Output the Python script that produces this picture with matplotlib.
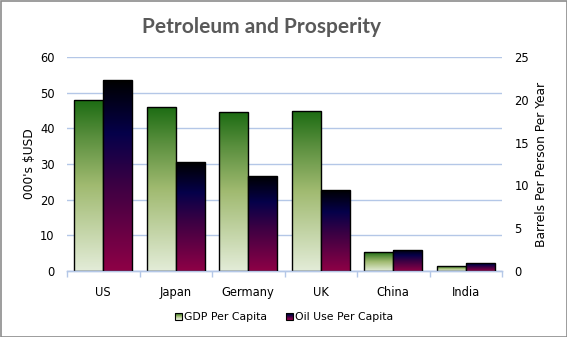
import numpy as np
import matplotlib
matplotlib.use("Agg")
import matplotlib.pyplot as plt
from matplotlib.colors import LinearSegmentedColormap
from matplotlib.legend_handler import HandlerBase
from matplotlib.patches import Rectangle, Patch

categories = ["US", "Japan", "Germany", "UK", "China", "India"]
gdp_per_capita = [48, 46, 44.6, 45, 5.2, 1.4]          # 000's $USD
oil_per_capita = [22.3, 12.7, 11.1, 9.5, 2.5, 0.95]    # barrels per person per year
left_ticks = [0, 10, 20, 30, 40, 50, 60]
right_ticks = [0, 5, 10, 15, 20, 25]

gdp_cmap = LinearSegmentedColormap.from_list(
    "gdp", [(0, "#e3ecd8"), (0.5, "#a0ba70"), (0.78, "#5a8f3e"), (1.0, "#1b6b12")])
oil_cmap = LinearSegmentedColormap.from_list(
    "oil", [(0, "#8e0046"), (0.45, "#3c0043"), (0.72, "#05004a"), (1.0, "#000000")])

fig = plt.figure(figsize=(5.67, 3.37), dpi=100)
ax = fig.add_axes([67/567, 1-271/337, 435/567, 214/337])
ax2 = ax.twinx()

x = np.arange(len(categories))
w = 0.4


def grad_bars(a, xs, vals, cmap):
    bars = a.bar(xs, vals, w, facecolor="none", edgecolor="black", linewidth=1.0, zorder=3)
    grad = np.linspace(0, 1, 256).reshape(-1, 1)
    for p in bars:
        im = a.imshow(grad, cmap=cmap, origin="lower", aspect="auto",
                      extent=[p.get_x(), p.get_x()+p.get_width(), p.get_y(), p.get_y()+p.get_height()],
                      zorder=2.5, interpolation="bilinear")
        im.set_clip_path(p)
    return bars

grad_bars(ax, x - w/2, gdp_per_capita, gdp_cmap)
grad_bars(ax2, x + w/2, oil_per_capita, oil_cmap)

ax.set_xlim(-0.5, len(categories) - 0.5)
ax.set_ylim(0, 60)
ax2.set_ylim(0, 25)
ax.set_yticks(left_ticks)
ax2.set_yticks(right_ticks)
ax.yaxis.grid(True, color="#b4c7e7", linewidth=1.0)
ax.set_axisbelow(True)

for a in (ax, ax2):
    for s in ("top", "left", "right"):
        a.spines[s].set_visible(False)
    a.spines["bottom"].set_color("#b4c7e7")
    a.spines["bottom"].set_linewidth(1.0)

ax.set_xticks(x)
ax.set_xticklabels(categories)
ax.set_xticks(np.arange(-0.5, len(categories), 1.0), minor=True)
ax.tick_params(axis="x", which="major", length=0, pad=11, labelsize=8.3)
ax.tick_params(axis="x", which="minor", length=4, color="#b4c7e7", width=1.0)
ax.tick_params(axis="y", length=0, pad=9, labelsize=8.3)
ax2.tick_params(axis="y", length=0, pad=9, labelsize=8.3)

ax.set_ylabel("000's $USD", fontsize=8.8, labelpad=3)
ax2.set_ylabel("Barrels Per Person Per Year", fontsize=8.8, labelpad=4)

fig.text(261.5/567, 1-27/337, "Petroleum and Prosperity", ha="center", va="center",
         fontsize=15, fontweight="bold", color="#595959", family="Lato")


class GradHandler(HandlerBase):
    def __init__(self, cmap):
        super().__init__()
        self.cmap = cmap

    def create_artists(self, legend, orig_handle, xdescent, ydescent, width, height, fontsize, trans):
        s = min(width, height) * 0.9
        x0 = -xdescent + (width - s)
        y0 = -ydescent + (height - s) / 2
        arts = []
        n = 12
        for i in range(n):
            r = Rectangle((x0, y0 + s*i/n), s, s/n, facecolor=self.cmap((i+0.5)/n),
                          edgecolor="none", transform=trans)
            arts.append(r)
        arts.append(Rectangle((x0, y0), s, s, facecolor="none", edgecolor="black",
                              linewidth=0.8, transform=trans))
        return arts

h1 = Patch(label="GDP Per Capita")
h2 = Patch(label="Oil Use Per Capita")
fig.legend([h1, h2], ["GDP Per Capita", "Oil Use Per Capita"], loc="center",
           bbox_to_anchor=(0.5, 1-317/337), ncol=2, frameon=False, fontsize=7.8,
           handler_map={h1: GradHandler(gdp_cmap), h2: GradHandler(oil_cmap)},
           handlelength=0.8, handletextpad=0.2, columnspacing=1.6)

fig.patches.append(Rectangle((0.5/567, 0.5/337), 1-1/567, 1-1/337, transform=fig.transFigure,
                             facecolor="none", edgecolor="#8c8c8c", linewidth=1.2))

fig.savefig("out.png", dpi=100)
